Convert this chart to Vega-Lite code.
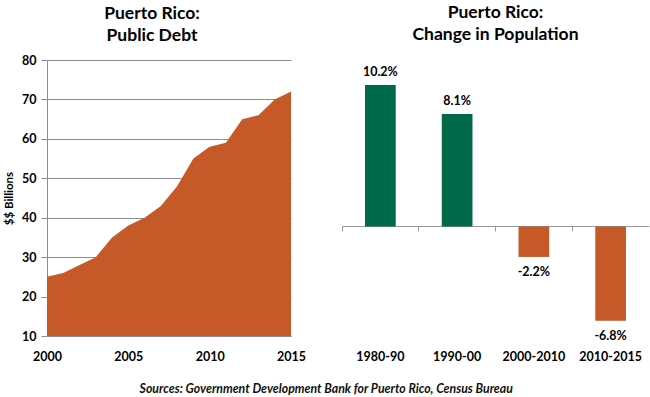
{
  "$schema": "https://vega.github.io/schema/vega-lite/v6.json",
  "background": "white",
  "padding": {"left": 3, "top": 3, "right": 2, "bottom": 2},
  "config": {"font": "Lato", "view": {"stroke": null}, "concat": {"spacing": 35}},
  "title": {"text": "Sources: Government Development Bank for Puerto Rico, Census Bureau", "orient": "bottom", "anchor": "middle", "fontStyle": "italic", "fontWeight": "bold", "fontSize": 12.3, "color": "#111", "offset": 20},
  "hconcat": [
    {
      "width": 244,
      "height": 276,
      "title": {"text": ["Puerto Rico:", "Public Debt"], "fontSize": 17.5, "fontWeight": "bold", "anchor": "middle", "dx": -17, "lineHeight": 22, "offset": 10, "color": "#000"},
      "data": {"values": [
        {"year": 2000, "debt": 25}, {"year": 2001, "debt": 26}, {"year": 2002, "debt": 28},
        {"year": 2003, "debt": 30}, {"year": 2004, "debt": 35}, {"year": 2005, "debt": 38},
        {"year": 2006, "debt": 40}, {"year": 2007, "debt": 43}, {"year": 2008, "debt": 48},
        {"year": 2009, "debt": 55}, {"year": 2010, "debt": 58}, {"year": 2011, "debt": 59},
        {"year": 2012, "debt": 65}, {"year": 2013, "debt": 66}, {"year": 2014, "debt": 70},
        {"year": 2015, "debt": 72}
      ]},
      "mark": {"type": "area", "color": "#C55A28", "opacity": 1},
      "encoding": {
        "x": {"field": "year", "type": "quantitative", "scale": {"domain": [2000, 2015], "nice": false, "zero": false},
          "axis": {"values": [2000, 2005, 2010, 2015], "format": "d", "title": null, "grid": false, "ticks": false, "domain": false, "labelFontSize": 12.5, "labelFontWeight": "bold", "labelPadding": 14, "labelColor": "#000", "labelFlush": false}},
        "y": {"field": "debt", "type": "quantitative", "scale": {"domain": [10, 80], "nice": false, "zero": false},
          "axis": {"values": [10, 20, 30, 40, 50, 60, 70, 80], "title": "$$ Billions", "titleFontSize": 11.5, "titleFontWeight": "bold", "titleColor": "#000", "grid": true, "gridColor": "#8c8c8c", "gridOpacity": 1, "domainColor": "#8c8c8c", "tickColor": "#8c8c8c", "tickSize": 6, "labelFontSize": 12.5, "labelFontWeight": "bold", "labelColor": "#000", "labelPadding": 5, "titlePadding": 7}},
        "y2": {"datum": 10}
      }
    },
    {
      "width": 307,
      "height": 276,
      "title": {"text": ["Puerto Rico:", "Change in Population"], "fontSize": 17.5, "fontWeight": "bold", "anchor": "middle", "lineHeight": 22, "offset": 17, "color": "#000"},
      "data": {"values": [
        {"period": "1980-90", "change": 10.2, "label": "10.2%"},
        {"period": "1990-00", "change": 8.1, "label": "8.1%"},
        {"period": "2000-2010", "change": -2.2, "label": "-2.2%"},
        {"period": "2010-2015", "change": -6.8, "label": "-6.8%"}
      ]},
      "layer": [
        {
          "mark": {"type": "bar"},
          "encoding": {
            "x": {"field": "period", "type": "nominal", "sort": null, "scale": {"paddingInner": 0.6, "paddingOuter": 0.3},
              "axis": {"orient": "bottom", "title": null, "domain": false, "ticks": false, "labelAngle": 0, "labelFontSize": 12.5, "labelFontWeight": "bold", "labelColor": "#000", "labelPadding": 14}},
            "y": {"field": "change", "type": "quantitative", "scale": {"domain": [-7.9, 12], "nice": false, "zero": false}, "axis": null},
            "color": {"condition": {"test": "datum.change < 0", "value": "#C55A28"}, "value": "#00694A"}
          }
        },
        {
          "transform": [{"filter": "datum.change >= 0"}],
          "mark": {"type": "text", "baseline": "middle", "dy": -13, "fontSize": 12.5, "fontWeight": "bold", "color": "#000"},
          "encoding": {
            "x": {"field": "period", "type": "nominal", "sort": null, "axis": null},
            "y": {"field": "change", "type": "quantitative"},
            "text": {"field": "label"}
          }
        },
        {
          "transform": [{"filter": "datum.change < 0"}],
          "mark": {"type": "text", "baseline": "middle", "dy": 15, "fontSize": 12.5, "fontWeight": "bold", "color": "#000"},
          "encoding": {
            "x": {"field": "period", "type": "nominal", "sort": null, "axis": null},
            "y": {"field": "change", "type": "quantitative"},
            "text": {"field": "label"}
          }
        },
        {
          "mark": {"type": "rule", "opacity": 0},
          "encoding": {
            "x": {"field": "period", "type": "nominal", "sort": null,
              "axis": {"orient": "bottom", "offset": -110, "title": null, "labels": false, "grid": false, "domain": true, "domainColor": "#999999", "ticks": true, "tickColor": "#999999", "tickSize": 5, "bandPosition": -0.75}}
          }
        }
      ],
      "resolve": {"axis": {"x": "independent"}}
    }
  ]
}
